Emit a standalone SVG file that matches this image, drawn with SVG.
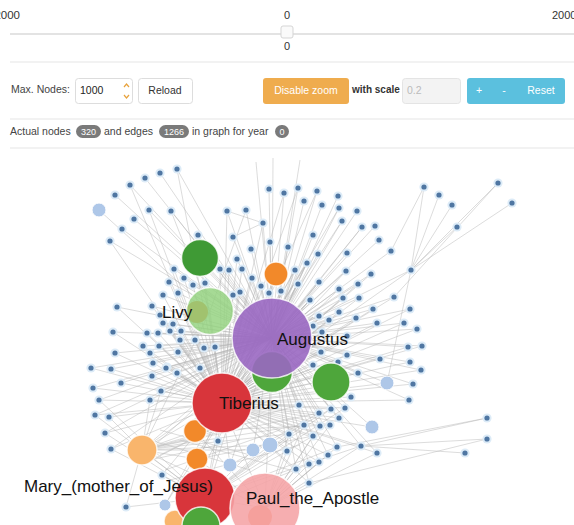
<svg xmlns="http://www.w3.org/2000/svg" xmlns:xlink="http://www.w3.org/1999/xlink" width="574" height="525" viewBox="0 0 574 525">
<style>
.ui{font-family:"Liberation Sans",Arial,sans-serif;font-size:10.5px;fill:#444}
.lbl{font-family:"Liberation Sans",Arial,sans-serif;font-size:17px;fill:#111}
.sep{stroke:#e5e5e5;stroke-width:1}
.badge{fill:#7a7a7a}
.btxt{font-family:"Liberation Sans",Arial,sans-serif;font-size:9px;fill:#fff;text-anchor:middle}
.edges{stroke:#b3b3b3;stroke-width:0.6;fill:none;opacity:0.78}
.big{stroke:#fff;stroke-width:1.5;stroke-opacity:0.8}
</style>
<defs>
<g id="s"><circle r="4.6" fill="#dcebf7"/><circle r="2.6" fill="#4f76a2"/></g>
</defs>
<rect width="574" height="525" fill="#fff"/>
<!-- slider -->
<g id="slider">
<text class="ui" x="20" y="19" text-anchor="end" style="font-size:11.5px;fill:#333">-2000</text>
<text class="ui" x="287" y="19" text-anchor="middle" style="font-size:11px;fill:#333">0</text>
<text class="ui" x="552" y="19" style="font-size:11px;fill:#333">2000</text>
<line x1="10" y1="34" x2="574" y2="34" stroke="#e3e3e3" stroke-width="2"/>
<rect x="281" y="26" width="12" height="12" rx="2" fill="#fafafa" stroke="#d5d5d5" stroke-width="1"/>
<text class="ui" x="287" y="50" text-anchor="middle" style="font-size:11px;fill:#333">0</text>
</g>
<line class="sep" x1="10" y1="62" x2="574" y2="62"/>
<!-- controls -->
<g id="controls">
<text class="ui" x="11" y="93">Max. Nodes:</text>
<rect x="75.5" y="78.5" width="57" height="25" rx="3" fill="#fff" stroke="#ddd"/>
<text class="ui" x="80" y="94" style="fill:#222">1000</text>
<path d="M124 87l2.5-3 2.5 3M124 95l2.5 3 2.5-3" stroke="#e8a33d" stroke-width="1.2" fill="none"/>
<rect x="138.5" y="78.5" width="54" height="25" rx="3" fill="#fff" stroke="#ddd"/>
<text class="ui" x="165" y="94" text-anchor="middle" style="fill:#333">Reload</text>
<rect x="263" y="78" width="86" height="26" rx="3" fill="#efac4e"/>
<text class="ui" x="306" y="94" text-anchor="middle" style="fill:#fff">Disable zoom</text>
<text class="ui" x="352" y="93" style="fill:#333;font-weight:bold;font-size:10px">with scale</text>
<rect x="402.5" y="78.5" width="58" height="25" rx="3" fill="#f3f3f3" stroke="#e4e4e4"/>
<text class="ui" x="407" y="94" style="fill:#bbb">0.2</text>
<rect x="467" y="78" width="98" height="26" rx="3" fill="#5bc0de"/>
<text class="ui" x="479" y="94" text-anchor="middle" style="fill:#fff">+</text>
<text class="ui" x="504" y="94" text-anchor="middle" style="fill:#fff">-</text>
<text class="ui" x="541" y="94" text-anchor="middle" style="fill:#fff">Reset</text>
</g>
<line class="sep" x1="10" y1="119" x2="574" y2="119"/>
<g id="stats">
<text class="ui" x="10" y="135">Actual nodes</text>
<rect class="badge" x="76" y="125" width="25" height="13" rx="6.5"/>
<text class="btxt" x="88.5" y="135">320</text>
<text class="ui" x="104" y="135">and edges</text>
<rect class="badge" x="159" y="125" width="30" height="13" rx="6.5"/>
<text class="btxt" x="174" y="135">1266</text>
<text class="ui" x="192" y="135">in graph for year</text>
<rect class="badge" x="275" y="125" width="14" height="13" rx="6.5"/>
<text class="btxt" x="282" y="135">0</text>
</g>
<line class="sep" x1="10" y1="148" x2="574" y2="148"/>
<!-- connectors -->
<g id="connectors">
<path class="edges" d="M177 169L272 338M160 173L272 338M145 178L272 338M130 185L272 338M115 195L272 338M149 210L272 338M171 211L272 338M134 219L272 338M122 229L272 338M110 241L272 338M99 210L210 311M130 185L222 403M149 210L222 403M110 241L222 403M171 211L210 311M177 169L222 403
M227 211L272 338M246 210L272 338M263 223L272 338M269 189L272 338M284 193L272 338M298 188L272 338M317 191L272 338M304 201L272 338M322 205L272 338M338 196L272 338M339 208L272 338M342 221L272 338M357 211L272 338M362 227L272 338M375 226L272 338M198 235L272 338M233 237L272 338M270 242L272 338M251 249L272 338M288 247L272 338M313 235L272 338M318 254L272 338M379 240L272 338M391 251L272 338M347 253L272 338M273 158L272 338M300 160L272 338M256 162L272 338
M227 211L222 403M284 193L222 403M317 191L222 403M342 221L222 403M362 227L222 403M263 223L222 403M298 188L222 403M339 208L222 403M246 210L210 311M263 223L227 211M263 223L233 237
M237 259L272 338M174 269L272 338M184 278L272 338M169 282L272 338M193 285L272 338M205 283L272 338M220 269L272 338M229 270L272 338M242 269L272 338M252 278L272 338M261 286L272 338M240 292L272 338M233 295L272 338M163 295L272 338M178 293L272 338M152 306L272 338M117 307L272 338M163 323L272 338M173 324L272 338M160 315L272 338M113 332L272 338M147 333L272 338M158 333L272 338M170 331L272 338M181 331L272 338M180 340L272 338M195 340L272 338M143 346L272 338M150 353L272 338M159 346L272 338M178 352L272 338M115 353L272 338M153 363L272 338M167 367L272 338M91 368L272 338M111 369L272 338M177 373L272 338M121 383L272 338M93 388L272 338M152 376L272 338M161 391L272 338M99 400L272 338M150 400L272 338M95 415L272 338M109 417L272 338M105 433L272 338M111 449L272 338M200 368L272 338M204 348L272 338M215 347L272 338M166 368L272 338
M237 259L222 403M174 269L222 403M184 278L222 403M169 282L222 403M193 285L222 403M205 283L222 403M220 269L222 403M229 270L222 403M242 269L222 403M252 278L222 403M261 286L222 403M240 292L222 403M233 295L222 403M163 295L222 403M178 293L222 403M152 306L222 403M117 307L222 403M163 323L222 403M173 324L222 403M160 315L222 403M113 332L222 403M147 333L222 403M158 333L222 403M170 331L222 403M181 331L222 403M180 340L222 403M195 340L222 403M143 346L222 403M150 353L222 403M159 346L222 403M178 352L222 403M115 353L222 403M153 363L222 403M167 367L222 403M91 368L222 403M111 369L222 403M177 373L222 403M121 383L222 403M93 388L222 403M152 376L222 403M161 391L222 403M99 400L222 403M150 400L222 403M95 415L222 403M109 417L222 403M105 433L222 403M111 449L222 403M200 368L222 403M204 348L222 403M215 347L222 403M166 368L222 403
M295 270L272 338M307 263L272 338M298 284L272 338M281 291L272 338M269 293L272 338M310 300L272 338M319 316L272 338M313 326L272 338M294 271L272 338M306 264L272 338M319 282L272 338M346 271L272 338M371 274L272 338M358 284L272 338M339 289L272 338M343 298L272 338M359 298L272 338M394 297L272 338M308 302L272 338M373 309L272 338M410 309L272 338M339 312L272 338M356 318L272 338M377 323L272 338M404 323L272 338M417 329L272 338M313 317L272 338M329 320L272 338M322 332L272 338M347 336L272 338M411 270L272 338M408 347L272 338M422 346L272 338M380 359L272 338M410 362L272 338M421 370L272 338M358 373L272 338M413 384L272 338M409 400L272 338M351 397L272 338M345 408L272 338M331 409L272 338M319 413L272 338M299 405L272 338M339 418L272 338M321 352L272 338M347 355L272 338M338 362L272 338M313 365L272 338
M295 270L222 403M307 263L222 403M298 284L222 403M281 291L222 403M269 293L222 403M310 300L222 403M319 316L222 403M313 326L222 403M294 271L222 403M306 264L222 403M319 282L222 403M346 271L222 403M371 274L222 403M358 284L222 403M339 289L222 403M343 298L222 403M359 298L222 403M394 297L222 403M308 302L222 403M373 309L222 403M410 309L222 403M339 312L222 403M356 318L222 403M377 323L222 403M404 323L222 403M417 329L222 403M313 317L222 403M329 320L222 403M322 332L222 403M347 336L222 403M411 270L222 403M408 347L222 403M422 346L222 403M380 359L222 403M410 362L222 403M421 370L222 403M358 373L222 403M413 384L222 403M409 400L222 403M351 397L222 403M345 408L222 403M331 409L222 403M319 413L222 403M299 405L222 403M339 418L222 403M321 352L222 403M347 355L222 403M338 362L222 403M313 365L222 403
M304 425L222 403M320 426L222 403M330 425L222 403M289 434L222 403M313 436L222 403M287 451L222 403M337 447L222 403M361 446L222 403M377 453L222 403M328 455L222 403M319 462L222 403M309 464L222 403M296 469L222 403M309 483L222 403
M304 425L272 338M320 426L272 338M330 425L272 338M289 434L272 338M313 436L272 338M287 451L272 338M337 447L272 338M361 446L272 338M377 453L272 338M328 455L272 338M319 462L272 338M309 464L272 338M296 469L272 338M309 483L272 338
M304 425L265 508M320 426L265 508M330 425L265 508M289 434L265 508M313 436L265 508M287 451L265 508M337 447L265 508M361 446L265 508M377 453L265 508M328 455L265 508M319 462L265 508M309 464L265 508M296 469L265 508M309 483L265 508
M411 270L424 187M411 270L439 195M411 270L452 205M411 270L457 227M411 270L498 183M411 270L512 203M394 297L498 183M391 251L424 187M361 446L487 418M361 446L487 439M361 446L465 453M337 447L487 418M309 483L487 439M387 383L411 270M387 383L272 338M372 427L272 338M372 427L222 403M387 383L222 403
M218 441L222 403M218 441L205 498M162 475L205 498M162 475L222 403M126 507L205 498M126 507L142 450M165 505L222 403M165 505L272 338
M272 338L222 403M272 338L210 311M272 338L200 258M272 338L331 382M272 338L265 508M222 403L265 508M222 403L205 498M205 498L265 508M142 450L222 403M142 450L272 338M142 450L205 498M142 450L197 459M142 450L195 431M142 450L265 508M195 431L272 338M197 459L272 338M197 459L265 508M195 431L265 508M230 465L272 338M253 450L272 338M270 445L272 338M230 465L222 403M253 450L205 498M270 445L205 498M142 450L210 311M142 450L253 450M142 450L270 445M175 520L222 403M175 520L272 338M200 258L222 403M210 311L222 403M276 274L222 403M276 274L205 498
M205 498L304 425M205 498L313 436M205 498L337 447M205 498L361 446M205 498L331 409M205 498L345 408M105 433L205 498M111 449L205 498M99 400L205 498M95 415L205 498M109 417L142 450M142 450L299 405M142 450L319 413M142 450L289 434M142 450L304 425M197 459L313 436M195 431L330 425M142 450L161 391M142 450L150 400M175 520L289 434M175 520L309 464M230 465L331 409M253 450L319 413
M142 450L240 380M142 450L230 430M142 450L260 420M150 440L250 470M150 460L240 440M160 430L250 455M165 470L280 430M170 480L300 445M180 440L290 470M155 445L215 390M148 462L230 420M160 455L270 400"/>
</g>
<!-- small nodes -->
<g id="small-nodes">
<use href="#s" x="177" y="169"/><use href="#s" x="160" y="173"/><use href="#s" x="145" y="178"/><use href="#s" x="130" y="185"/><use href="#s" x="115" y="195"/><use href="#s" x="149" y="210"/><use href="#s" x="171" y="211"/><use href="#s" x="134" y="219"/><use href="#s" x="122" y="229"/><use href="#s" x="110" y="241"/>
<use href="#s" x="227" y="211"/><use href="#s" x="246" y="210"/><use href="#s" x="263" y="223"/><use href="#s" x="269" y="189"/><use href="#s" x="284" y="193"/><use href="#s" x="298" y="188"/><use href="#s" x="317" y="191"/><use href="#s" x="304" y="201"/><use href="#s" x="322" y="205"/><use href="#s" x="338" y="196"/><use href="#s" x="339" y="208"/><use href="#s" x="342" y="221"/><use href="#s" x="357" y="211"/><use href="#s" x="362" y="227"/><use href="#s" x="375" y="226"/><use href="#s" x="198" y="235"/><use href="#s" x="233" y="237"/><use href="#s" x="270" y="242"/><use href="#s" x="251" y="249"/><use href="#s" x="288" y="247"/><use href="#s" x="313" y="235"/><use href="#s" x="318" y="254"/><use href="#s" x="379" y="240"/><use href="#s" x="391" y="251"/><use href="#s" x="347" y="253"/>
<use href="#s" x="237" y="259"/><use href="#s" x="174" y="269"/><use href="#s" x="184" y="278"/><use href="#s" x="169" y="282"/><use href="#s" x="193" y="285"/><use href="#s" x="205" y="283"/><use href="#s" x="220" y="269"/><use href="#s" x="229" y="270"/><use href="#s" x="242" y="269"/><use href="#s" x="252" y="278"/><use href="#s" x="261" y="286"/><use href="#s" x="240" y="292"/><use href="#s" x="233" y="295"/><use href="#s" x="163" y="295"/><use href="#s" x="178" y="293"/><use href="#s" x="152" y="306"/><use href="#s" x="117" y="307"/><use href="#s" x="163" y="323"/><use href="#s" x="173" y="324"/><use href="#s" x="160" y="315"/><use href="#s" x="113" y="332"/><use href="#s" x="147" y="333"/><use href="#s" x="158" y="333"/><use href="#s" x="170" y="331"/><use href="#s" x="181" y="331"/><use href="#s" x="180" y="340"/><use href="#s" x="195" y="340"/><use href="#s" x="143" y="346"/><use href="#s" x="150" y="353"/><use href="#s" x="159" y="346"/><use href="#s" x="178" y="352"/><use href="#s" x="115" y="353"/><use href="#s" x="153" y="363"/><use href="#s" x="167" y="367"/><use href="#s" x="91" y="368"/><use href="#s" x="111" y="369"/><use href="#s" x="177" y="373"/><use href="#s" x="121" y="383"/><use href="#s" x="93" y="388"/><use href="#s" x="152" y="376"/><use href="#s" x="161" y="391"/><use href="#s" x="99" y="400"/><use href="#s" x="150" y="400"/><use href="#s" x="95" y="415"/><use href="#s" x="109" y="417"/><use href="#s" x="105" y="433"/><use href="#s" x="111" y="449"/><use href="#s" x="200" y="368"/><use href="#s" x="204" y="348"/><use href="#s" x="215" y="347"/><use href="#s" x="166" y="368"/>
<use href="#s" x="295" y="270"/><use href="#s" x="307" y="263"/><use href="#s" x="298" y="284"/><use href="#s" x="281" y="291"/><use href="#s" x="269" y="293"/><use href="#s" x="310" y="300"/><use href="#s" x="319" y="316"/><use href="#s" x="313" y="326"/><use href="#s" x="319" y="282"/><use href="#s" x="346" y="271"/><use href="#s" x="371" y="274"/><use href="#s" x="358" y="284"/><use href="#s" x="339" y="289"/><use href="#s" x="343" y="298"/><use href="#s" x="359" y="298"/><use href="#s" x="394" y="297"/><use href="#s" x="373" y="309"/><use href="#s" x="410" y="309"/><use href="#s" x="339" y="312"/><use href="#s" x="356" y="318"/><use href="#s" x="377" y="323"/><use href="#s" x="404" y="323"/><use href="#s" x="417" y="329"/><use href="#s" x="329" y="320"/><use href="#s" x="322" y="332"/><use href="#s" x="347" y="336"/><use href="#s" x="411" y="270"/><use href="#s" x="408" y="347"/><use href="#s" x="422" y="346"/><use href="#s" x="380" y="359"/><use href="#s" x="410" y="362"/><use href="#s" x="421" y="370"/><use href="#s" x="358" y="373"/><use href="#s" x="413" y="384"/><use href="#s" x="409" y="400"/><use href="#s" x="351" y="397"/><use href="#s" x="345" y="408"/><use href="#s" x="331" y="409"/><use href="#s" x="319" y="413"/><use href="#s" x="299" y="405"/><use href="#s" x="339" y="418"/><use href="#s" x="321" y="352"/><use href="#s" x="347" y="355"/><use href="#s" x="338" y="362"/><use href="#s" x="313" y="365"/>
<use href="#s" x="304" y="425"/><use href="#s" x="320" y="426"/><use href="#s" x="330" y="425"/><use href="#s" x="289" y="434"/><use href="#s" x="313" y="436"/><use href="#s" x="287" y="451"/><use href="#s" x="337" y="447"/><use href="#s" x="361" y="446"/><use href="#s" x="377" y="453"/><use href="#s" x="328" y="455"/><use href="#s" x="319" y="462"/><use href="#s" x="309" y="464"/><use href="#s" x="296" y="469"/><use href="#s" x="309" y="483"/>
<use href="#s" x="424" y="187"/><use href="#s" x="439" y="195"/><use href="#s" x="452" y="205"/><use href="#s" x="457" y="227"/><use href="#s" x="498" y="183"/><use href="#s" x="512" y="203"/><use href="#s" x="487" y="418"/><use href="#s" x="487" y="439"/><use href="#s" x="465" y="453"/>
<use href="#s" x="218" y="441"/><use href="#s" x="162" y="475"/><use href="#s" x="126" y="507"/>
</g>
<!-- light blue nodes -->
<g id="light-nodes" fill="#aec7e8" stroke="#fff" stroke-width="1">
<circle cx="99" cy="210" r="7"/><circle cx="387" cy="383" r="7"/><circle cx="372" cy="427" r="7"/><circle cx="270" cy="445" r="8"/><circle cx="253" cy="450" r="7"/><circle cx="230" cy="465" r="7"/><circle cx="165" cy="505" r="6"/>
</g>
<!-- big nodes -->
<g id="node-g1"><circle class="big" cx="200" cy="258" r="18.5" fill="#3f9a35"/></g>
<g id="node-orange1"><circle class="big" cx="276" cy="274" r="12" fill="#f2892a"/></g>
<g id="node-livy"><circle cx="197" cy="312" r="11" fill="#e07b2a"/><circle class="big" cx="210" cy="311" r="23.5" fill="#93d27e" fill-opacity="0.82"/></g>
<g id="node-g3"><circle class="big" cx="272" cy="372" r="20.5" fill="#4ea63b"/></g>
<g id="node-augustus"><circle class="big" cx="272" cy="338" r="40" fill="#9a68c2" fill-opacity="0.9"/></g>
<g id="node-g2"><circle class="big" cx="331" cy="382" r="19" fill="#4ea63b"/></g>
<g id="node-lorange"><circle class="big" cx="142" cy="450" r="15" fill="#f9b56c"/></g>
<g id="node-orange2"><circle class="big" cx="195" cy="431" r="11.5" fill="#f2892a"/></g>
<g id="node-orange3"><circle class="big" cx="197" cy="459" r="11" fill="#f2892a"/></g>
<g id="node-tiberius"><circle class="big" cx="222" cy="403" r="30" fill="#d8353b"/></g>
<g id="node-lorange2"><circle class="big" cx="175" cy="521" r="11" fill="#f9b56c"/></g>
<g id="node-mary"><circle class="big" cx="205" cy="498" r="30" fill="#d8353b"/></g>
<g id="node-g4"><circle class="big" cx="201" cy="526" r="19" fill="#4ea63b"/></g>
<g id="node-paul"><circle cx="260" cy="517" r="12" fill="#f58a5a"/><circle class="big" cx="265" cy="508" r="35" fill="#f5a3a5" fill-opacity="0.88"/></g>
<!-- labels -->
<g id="labels">
<text class="lbl" x="162" y="318">Livy</text>
<text class="lbl" x="277" y="345">Augustus</text>
<text class="lbl" x="219" y="409">Tiberius</text>
<text class="lbl" x="24" y="492">Mary_(mother_of_Jesus)</text>
<text class="lbl" x="246" y="504">Paul_the_Apostle</text>
</g>
</svg>
